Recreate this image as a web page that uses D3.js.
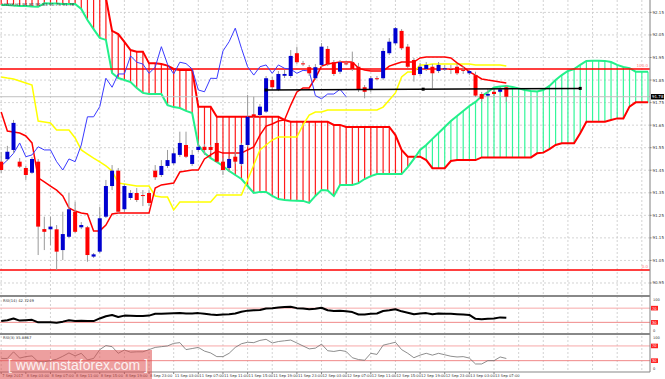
<!DOCTYPE html>
<html><head><meta charset="utf-8">
<script src="https://cdn.jsdelivr.net/npm/d3@7"></script>
<style>body{margin:0;background:#fff}svg{display:block}</style>
</head><body>
<svg id="c" width="665" height="379"></svg>
<script>
// ---------- DATA ----------
const timeLabels = ["7 Sep 2017","8 Sep 03:00","8 Sep 07:00","8 Sep 11:00","8 Sep 15:00","8 Sep 19:00","8 Sep 23:00","11 Sep 03:00","11 Sep 07:00","11 Sep 11:00","11 Sep 15:00","11 Sep 19:00","11 Sep 23:00","12 Sep 03:00","12 Sep 07:00","12 Sep 11:00","12 Sep 15:00","12 Sep 19:00","12 Sep 23:00","13 Sep 03:00","13 Sep 07:00"];
const priceTicks = [90.95,91.05,91.15,91.25,91.35,91.45,91.55,91.65,91.75,91.85,91.95,92.05,92.15];
const open  = [91.488,91.499,91.540,91.488,91.460,91.439,91.488,91.189,91.188,91.188,91.096,91.155,91.266,91.197,91.197,91.067,91.089,91.244,91.380,91.448,91.277,91.327,91.349,91.340,91.349,91.448,91.429,91.469,91.481,91.518,91.562,91.478,91.540,91.554,91.553,91.571,91.488,91.460,91.510,91.478,91.562,91.698,91.695,91.710,91.850,91.806,91.869,91.868,91.969,91.924,91.907,91.858,91.917,91.988,91.929,91.887,91.924,91.929,91.909,91.818,91.806,91.858,91.858,91.969,92.013,92.068,91.998,91.939,91.877,91.899,91.909,91.890,91.901,91.899,91.909,91.895,91.880,91.872,91.788,91.781,91.798,91.798,91.818];
const high  = [91.531,91.558,91.673,91.504,91.469,91.509,91.500,91.244,91.244,91.207,91.266,91.349,91.310,91.220,91.203,91.083,91.288,91.407,91.473,91.460,91.389,91.362,91.371,91.362,91.362,91.473,91.495,91.540,91.549,91.621,91.621,91.540,91.571,91.566,91.562,91.584,91.504,91.513,91.531,91.571,91.784,91.776,91.744,91.868,91.864,91.890,91.895,91.983,91.998,91.935,91.917,91.921,92.014,92.001,91.939,91.939,91.930,91.976,91.926,91.828,91.868,91.868,91.992,92.036,92.085,92.076,92.010,91.948,91.926,91.930,91.921,91.930,91.917,91.917,91.921,91.912,91.895,91.887,91.797,91.810,91.815,91.819,91.828];
const low   = [91.438,91.491,91.526,91.460,91.407,91.434,91.074,91.096,91.118,91.008,91.052,91.150,91.172,91.189,91.044,91.061,91.083,91.238,91.362,91.260,91.265,91.318,91.309,91.291,91.291,91.407,91.420,91.460,91.473,91.509,91.504,91.469,91.531,91.518,91.526,91.482,91.429,91.442,91.478,91.469,91.553,91.682,91.686,91.704,91.806,91.801,91.859,91.859,91.921,91.912,91.868,91.850,91.908,91.912,91.868,91.877,91.917,91.890,91.797,91.769,91.797,91.850,91.850,91.961,92.005,91.983,91.903,91.843,91.868,91.890,91.813,91.881,91.890,91.877,91.872,91.877,91.872,91.775,91.754,91.775,91.779,91.793,91.754];
const close = [91.451,91.532,91.660,91.466,91.429,91.500,91.200,91.177,91.200,91.089,91.167,91.277,91.177,91.207,91.074,91.077,91.237,91.380,91.448,91.266,91.380,91.349,91.318,91.338,91.305,91.419,91.469,91.495,91.525,91.571,91.510,91.518,91.554,91.540,91.540,91.488,91.451,91.500,91.488,91.562,91.687,91.687,91.732,91.858,91.818,91.877,91.877,91.957,91.929,91.921,91.880,91.907,91.998,91.920,91.877,91.929,91.923,91.899,91.806,91.798,91.858,91.857,91.979,92.020,92.080,91.991,91.909,91.872,91.909,91.917,91.880,91.917,91.902,91.898,91.880,91.893,91.890,91.781,91.767,91.788,91.788,91.809,91.776];
const tenkan = [91.708,91.624,91.620,91.615,91.602,91.571,91.416,91.398,91.380,91.362,91.336,91.283,91.269,91.260,91.256,91.181,91.181,91.207,91.256,91.260,91.260,91.260,91.260,91.260,91.260,91.371,91.385,91.389,91.393,91.442,91.447,91.451,91.451,91.500,91.518,91.535,91.526,91.526,91.526,91.526,91.540,91.553,91.606,91.646,91.655,91.668,91.673,91.739,91.797,91.815,91.815,91.859,91.912,91.921,91.926,91.930,91.930,91.930,91.903,91.895,91.890,91.890,91.890,91.912,91.921,91.930,91.930,91.930,91.948,91.952,91.952,91.952,91.952,91.948,91.926,91.908,91.886,91.872,91.855,91.850,91.846,91.841,91.837];
const kijun = [91.864,91.859,91.855,91.846,91.837,91.828,91.668,91.664,91.660,91.628,91.628,91.628,91.593,91.540,91.522,91.504,91.487,91.469,91.447,91.393,91.389,91.385,91.380,91.380,91.380,91.336,91.331,91.331,91.274,91.309,91.309,91.309,91.309,91.309,91.309,91.340,91.340,91.340,91.340,91.340,91.407,91.473,91.540,91.562,91.584,91.597,91.597,91.597,91.597,91.651,91.695,91.708,91.708,91.717,91.717,91.717,91.717,91.717,91.717,91.717,91.717,91.717,91.730,91.762,91.793,91.864,91.886,91.886,91.917,91.917,91.921,91.921,91.921,91.921,91.921,91.921,91.921,91.917,91.917,91.917,91.917,91.917,91.912];
const spanA = [92.183,92.183,92.181,92.178,92.178,92.176,92.175,92.190,92.189,92.189,92.187,92.187,92.187,92.165,92.116,92.076,92.037,92.028,91.881,91.859,91.850,91.841,91.815,91.793,91.788,91.788,91.788,91.739,91.730,91.726,91.713,91.704,91.562,91.526,91.504,91.487,91.469,91.447,91.429,91.411,91.380,91.349,91.354,91.354,91.336,91.322,91.318,91.316,91.315,91.314,91.305,91.336,91.362,91.360,91.336,91.385,91.385,91.385,91.393,91.411,91.424,91.433,91.433,91.433,91.433,91.433,91.464,91.500,91.540,91.562,91.589,91.615,91.642,91.668,91.691,91.713,91.735,91.753,91.779,91.797,91.817,91.821,91.824,91.819,91.813,91.806,91.801,91.799,91.806,91.824,91.850,91.872,91.890,91.899,91.917,91.935,91.936,91.936,91.935,91.930,91.917,91.908,91.903,91.887,91.887,91.887];
const spanB = [92.26,92.26,92.26,92.26,92.26,92.26,92.26,92.26,92.26,92.26,92.26,92.26,92.26,92.26,92.26,92.26,92.26,92.214,92.068,92.054,92.019,91.983,91.976,91.976,91.924,91.924,91.921,91.914,91.899,91.895,91.895,91.895,91.732,91.732,91.732,91.687,91.687,91.687,91.687,91.687,91.687,91.687,91.687,91.687,91.687,91.687,91.673,91.665,91.665,91.665,91.665,91.665,91.665,91.665,91.651,91.651,91.642,91.642,91.642,91.642,91.642,91.642,91.642,91.642,91.606,91.540,91.510,91.510,91.510,91.495,91.459,91.459,91.459,91.491,91.495,91.495,91.495,91.495,91.507,91.507,91.507,91.507,91.507,91.507,91.507,91.507,91.507,91.525,91.528,91.544,91.562,91.570,91.570,91.570,91.614,91.665,91.665,91.665,91.665,91.673,91.680,91.680,91.732,91.751,91.751,91.751];
const rsi14 = [34,36,41,35,36,37,30,30.5,30.5,29,32,36,34,34.5,33.5,33.5,41,47,50.5,45,49,48.5,48,48,49,54,54,55,55.5,56,55,55,56,54,52,50.5,52,53,55,60,63,64,65,69,70,72,73,74,70,69,67,68,71,64,62,63,61,59,52,52,54,55,62,64,67,61,57,53,55,56,53,55,54,54,53,52,51,40,39,40,41,44,42.72];
const rsi3  = [36,36,54,37,41,43,27,27,30,34,42,51,43,50,32,36,60,71,68,50,59,53,54,54,60,66,68,70,77,79,60,63,66,56,51,41,41,50,66,76,80,79,85,88,78,82,84,86,78,70,62,64,75,57,55,58,55,38,33,31,50,47,72,76,80,60,50,38,45,50,45,50,46,42,40,41,37,21,21,30,30,40,35.89];
const rsiLevels = [70,30];
const fibLevels = [{v:91.899,label:"100.0"},{v:91.008,label:"0.0"}];
const trendLine = [{bar:43,price:91.806},{bar:94,price:91.813}];
const lastPrice = 91.776;
const header = "USDX,H1  91.81 91.83 91.75 91.78";

// ---------- LAYOUT ----------
const plotR = 650, mainB = 295.5;
const svg = d3.select('#c');
const font = "Tahoma, 'DejaVu Sans', sans-serif";
const x = d3.scaleLinear().domain([0,105]).range([1.2, 1.2+6.16*105]);
const y = d3.scaleLinear().domain([90.8945,92.205]).range([mainB,0]);
const yR1 = d3.scaleLinear().domain([0,100]).range([333,297.5]);
const yR2 = d3.scaleLinear().domain([0,100]).range([371.7,334.9]);

const defs = svg.append('defs');
defs.append('clipPath').attr('id','cm').append('rect').attr('x',0).attr('y',0).attr('width',plotR).attr('height',mainB);
defs.append('clipPath').attr('id','cr').append('rect').attr('x',0).attr('y',296).attr('width',plotR).attr('height',76);

// grid
const gGrid = svg.append('g');
const gridBars = d3.range(0,106,4);
gGrid.selectAll('line.v').data(gridBars).join('line')
  .attr('x1',d=>x(d)).attr('x2',d=>x(d)).attr('y1',0).attr('y2',372)
  .attr('stroke','#c8c8c8').attr('stroke-dasharray','2,2').attr('stroke-width',0.8);
gGrid.selectAll('line.h').data(priceTicks).join('line')
  .attr('x1',0).attr('x2',plotR).attr('y1',d=>y(d)).attr('y2',d=>y(d))
  .attr('stroke','#c8c8c8').attr('stroke-dasharray','2,2').attr('stroke-width',0.8);

const gMain = svg.append('g').attr('clip-path','url(#cm)');
// cloud hatch
const cloud = spanA.map((a,i)=>({i,a,b:spanB[i]}));
gMain.selectAll('line.hatch').data(cloud).join('line')
  .attr('x1',d=>x(d.i)).attr('x2',d=>x(d.i))
  .attr('y1',d=>y(d.a)).attr('y2',d=>y(d.b))
  .attr('stroke',d=>d.a>=d.b?'#33f79a':'#ff1a1a').attr('stroke-width',1.2);
const line = (data,xs,ys)=>d3.line().x((d,i)=>xs(i)).y(d=>ys(d))(data);
gMain.append('path').attr('d',line(spanB,x,y)).attr('fill','none').attr('stroke','#ff0000').attr('stroke-width',2);
gMain.append('path').attr('d',line(spanA,x,y)).attr('fill','none').attr('stroke','#22f08a').attr('stroke-width',2);

// fib lines
gMain.selectAll('line.fib').data(fibLevels).join('line')
  .attr('x1',0).attr('x2',plotR).attr('y1',d=>y(d.v)).attr('y2',d=>y(d.v))
  .attr('stroke','#ff0000').attr('stroke-width',1.5);
svg.selectAll('text.fib').data(fibLevels).join('text')
  .attr('x',648).attr('y',d=>y(d.v)-1.5).attr('text-anchor','end')
  .attr('font-size',4).attr('font-family',font).attr('fill','#ff8080').text(d=>d.label);

// bid line
gMain.append('line').attr('x1',0).attr('x2',plotR).attr('y1',y(lastPrice)).attr('y2',y(lastPrice))
  .attr('stroke','#c0c0c0').attr('stroke-width',1);

// tenkan, kijun, chikou
gMain.append('path').attr('d',line(kijun,x,y)).attr('fill','none').attr('stroke','#ffff00').attr('stroke-width',1.5);
gMain.append('path').attr('d',line(tenkan,x,y)).attr('fill','none').attr('stroke','#ff0000').attr('stroke-width',1.5);
const chikou = close.slice(26);
gMain.append('path').attr('d',line(chikou,x,y)).attr('fill','none').attr('stroke','#3a3aff').attr('stroke-width',1);

// candles
const candles = open.map((o,i)=>({i,o,h:high[i],l:low[i],c:close[i]}));
gMain.selectAll('line.wick').data(candles).join('line')
  .attr('x1',d=>x(d.i)).attr('x2',d=>x(d.i)).attr('y1',d=>y(d.h)).attr('y2',d=>y(d.l))
  .attr('stroke','#9a9a9a').attr('stroke-width',1);
gMain.selectAll('rect.body').data(candles).join('rect')
  .attr('x',d=>x(d.i)-2).attr('width',4)
  .attr('y',d=>y(Math.max(d.o,d.c))).attr('height',d=>Math.max(1,Math.abs(y(d.o)-y(d.c))))
  .attr('fill',d=>d.c>=d.o?'#0000d0':'#ff0000');

// trend line
gMain.append('line').attr('x1',x(trendLine[0].bar)).attr('x2',x(trendLine[1].bar))
  .attr('y1',y(trendLine[0].price)).attr('y2',y(trendLine[1].price)).attr('stroke','#000').attr('stroke-width',1.5);
const mid = {bar:(trendLine[0].bar+trendLine[1].bar)/2, price:(trendLine[0].price+trendLine[1].price)/2};
gMain.selectAll('rect.tp').data([trendLine[0],mid,trendLine[1]]).join('rect')
  .attr('x',d=>x(d.bar)-1.5).attr('y',d=>y(d.price)-1.5).attr('width',3).attr('height',3).attr('fill','#000');

// header
svg.append('text').attr('x',2).attr('y',5.5).attr('font-size',4.2).attr('font-family',font).attr('fill','#333').text(header);

// ---------- RSI PANELS ----------
const gR = svg.append('g').attr('clip-path','url(#cr)');
function rsiPanel(vals, ys, color, width, label, topY, botY){
  rsiLevels.forEach(l=>{
    gR.append('line').attr('x1',0).attr('x2',plotR).attr('y1',ys(l)).attr('y2',ys(l))
      .attr('stroke',l===70?'#f7a8a8':'#f08888').attr('stroke-width',1);
  });
  gR.append('path').attr('d',line(vals,x,ys)).attr('fill','none').attr('stroke',color)
    .attr('stroke-width',width).attr('stroke-linejoin','round');
  svg.append('text').attr('x',3).attr('y',ys(100)+4.5).attr('font-size',3.8).attr('font-family',font).attr('fill','#333').text(label);
  svg.append('text').attr('x',653).attr('y',topY).attr('font-size',3.6).attr('font-family',font).attr('fill','#333').text('100');
  svg.append('text').attr('x',653).attr('y',botY).attr('font-size',3.6).attr('font-family',font).attr('fill','#333').text('0');
  rsiLevels.forEach(v=>{
    svg.append('rect').attr('x',651).attr('y',ys(v)-2.3).attr('width',7).attr('height',4.6).attr('fill','#ff2020');
    svg.append('text').attr('x',652).attr('y',ys(v)+1.4).attr('font-size',3.6).attr('font-family',font).attr('fill','#fff').text(v);
  });
}
rsiPanel(rsi14, yR1, '#000', 2, 'RSI(14) 42.7249', 301, 331.5);
rsiPanel(rsi3, yR2, '#707070', 0.8, 'RSI(3) 35.8867', 338.5, 370);

// ---------- AXES / FRAME ----------
svg.append('line').attr('x1',plotR).attr('x2',plotR).attr('y1',0).attr('y2',372).attr('stroke','#808080').attr('stroke-width',1);
[296,334].forEach(v=>svg.append('line').attr('x1',0).attr('x2',plotR).attr('y1',v).attr('y2',v).attr('stroke','#888').attr('stroke-width',2));
svg.append('line').attr('x1',0).attr('x2',plotR).attr('y1',372).attr('y2',372).attr('stroke','#888').attr('stroke-width',1.2);

svg.selectAll('text.pt').data(priceTicks).join('text')
  .attr('x',652.5).attr('y',d=>y(d)+1.5).attr('font-size',4).attr('font-family',font).attr('fill','#333')
  .text(d=>d.toFixed(2));
svg.selectAll('line.ptk').data(priceTicks).join('line')
  .attr('x1',plotR).attr('x2',plotR+1.5).attr('y1',d=>y(d)).attr('y2',d=>y(d)).attr('stroke','#808080');
svg.append('rect').attr('x',651).attr('y',y(lastPrice)-2.7).attr('width',13).attr('height',5.4).attr('fill','#000');
svg.append('text').attr('x',652).attr('y',y(lastPrice)+1.5).attr('font-size',4).attr('font-family',font).attr('fill','#fff').text(lastPrice.toFixed(2));

// time axis
svg.selectAll('text.tl').data(timeLabels).join('text')
  .attr('x',(d,k)=>x(k*4)+1).attr('y',376.5).attr('font-size',3.7).attr('font-family',font).attr('fill','#333').text(d=>d);
svg.selectAll('line.ttk').data(timeLabels).join('line')
  .attr('x1',(d,k)=>x(k*4)).attr('x2',(d,k)=>x(k*4)).attr('y1',372).attr('y2',374).attr('stroke','#808080');

// watermark
svg.append('rect').attr('x',0).attr('y',350).attr('width',152).attr('height',29).attr('fill','rgba(222,80,80,0.55)');
svg.append('text').attr('x',8).attr('y',370).attr('font-size',14).attr('font-family',"Arial, 'Liberation Sans', sans-serif")
  .attr('fill','rgba(255,255,255,0.85)').text('[ www.instaforex.com ]');
</script>
</body></html>
